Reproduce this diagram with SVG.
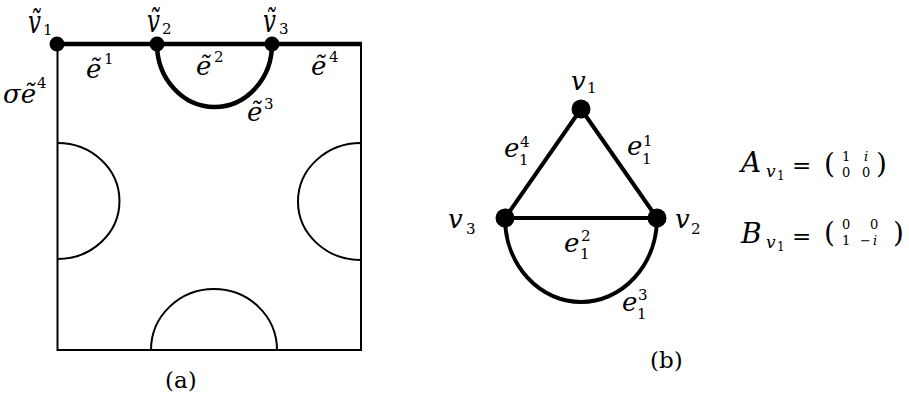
<svg xmlns="http://www.w3.org/2000/svg" width="909" height="400" viewBox="0 0 909 400">
<style>
.thin{fill:none;stroke:#000;stroke-width:2}
.thick{fill:none;stroke:#000;stroke-width:4.5}
.edge{fill:none;stroke:#000;stroke-width:4}
.dot{fill:#000}
.it{font-style:italic;font-size:26px}
.tv{font-style:italic;font-size:23px}
.sm{font-size:15px}
.sp{font-size:15px}
.smi{font-size:17px;font-style:italic}
.mi{font-style:italic;font-size:28px}
.eq{font-size:23px}
.par{font-size:28px}
.me{font-size:13px}
.s1{font-size:12px}
.cap{font-size:23px}
</style>
<g fill="#000" style="font-family:'DejaVu Serif',serif">
<g id="panel-a">
  <g id="square">
    <rect class="thin" x="57.5" y="44" width="303.5" height="306"/>
    <path class="thin" d="M57.5,143 A62,58 0 0 1 57.5,259"/>
    <path class="thin" d="M361,143 A63,58.5 0 0 0 361,260"/>
    <path class="thin" d="M151,350 A63,61 0 0 1 277,350"/>
  </g>
  <g id="connectors-a">
    <line class="thick" x1="57" y1="44" x2="362" y2="44"/>
    <path class="thick" d="M157,44 A57.5,63 0 0 0 272,44"/>
  </g>
  <g id="tv1"><circle class="dot" cx="57" cy="44" r="7.5"/>
    <text class="tv" transform="translate(28,33) scale(1,1.4)">ṽ</text><text class="sm" x="43" y="35">1</text></g>
  <g id="tv2"><circle class="dot" cx="157" cy="44" r="7.5"/>
    <text class="tv" transform="translate(147,32) scale(1,1.4)">ṽ</text><text class="sm" x="162" y="34">2</text></g>
  <g id="tv3"><circle class="dot" cx="272" cy="44" r="7.5"/>
    <text class="tv" transform="translate(263,32) scale(1,1.4)">ṽ</text><text class="sm" x="279" y="34">3</text></g>
  <g id="labels-a">
    <text class="it" x="86" y="78">ẽ</text><text class="sp" x="104" y="64">1</text>
    <text class="it" x="196" y="75">ẽ</text><text class="sp" x="214" y="62">2</text>
    <text class="it" x="311" y="75">ẽ</text><text class="sp" x="329" y="62">4</text>
    <text class="it" x="247" y="121">ẽ</text><text class="sp" x="264" y="109">3</text>
    <text class="it" x="3" y="103">σẽ</text><text class="sp" x="37" y="88">4</text>
    <text class="cap" x="165" y="388">(a)</text>
  </g>
</g>
<g id="panel-b">
  <g id="connectors-b">
    <line class="edge" x1="581" y1="109" x2="505" y2="218"/>
    <line class="edge" x1="581" y1="109" x2="657" y2="218"/>
    <line class="edge" x1="505" y1="218" x2="657" y2="218"/>
    <path class="edge" d="M505,218 A76,84 0 0 0 657,218"/>
  </g>
  <g id="v1"><circle class="dot" cx="581" cy="109" r="9.5"/>
    <text class="it" x="571" y="90">v</text><text class="sm" x="587" y="93">1</text></g>
  <g id="v2"><circle class="dot" cx="657" cy="218" r="9.5"/>
    <text class="it" x="675" y="228">v</text><text class="sm" x="691" y="234">2</text></g>
  <g id="v3"><circle class="dot" cx="505" cy="218" r="9.5"/>
    <text class="it" x="448" y="228">v</text><text class="sm" x="466" y="234">3</text></g>
  <g id="labels-b">
    <text class="it" x="627" y="155">e</text><text class="sm" x="642" y="164">1</text><text class="sm" x="643" y="146">1</text>
    <text class="it" x="504" y="157">e</text><text class="sm" x="519" y="165">1</text><text class="sm" x="520" y="147">4</text>
    <text class="it" x="564" y="252">e</text><text class="sm" x="580" y="259">1</text><text class="sm" x="581" y="241">2</text>
    <text class="it" x="622" y="311">e</text><text class="sm" x="637" y="319">1</text><text class="sm" x="638" y="300">3</text>
    <text class="cap" x="650" y="368">(b)</text>
  </g>
  <g id="matrix-A">
    <text class="mi" x="741" y="172">A</text><text class="smi" x="766" y="177">v</text><text class="s1" x="777" y="180">1</text>
    <text class="eq" x="792" y="173">=</text>
    <text class="par" x="824" y="173">(</text>
    <text class="me" x="842" y="161">1</text><text class="me" x="864" y="161" font-style="italic">i</text>
    <text class="me" x="842" y="177">0</text><text class="me" x="862" y="177">0</text>
    <text class="par" x="876" y="173">)</text>
  </g>
  <g id="matrix-B">
    <text class="mi" x="741" y="243">B</text><text class="smi" x="766" y="248">v</text><text class="s1" x="777" y="251">1</text>
    <text class="eq" x="792" y="244">=</text>
    <text class="par" x="824" y="242">(</text>
    <text class="me" x="842" y="229">0</text><text class="me" x="870" y="229">0</text>
    <text class="me" x="842" y="245">1</text><text class="me" x="860" y="245">−</text><text class="me" x="873" y="245" font-style="italic">i</text>
    <text class="par" x="893" y="242">)</text>
  </g>
</g>
</g>
</svg>
